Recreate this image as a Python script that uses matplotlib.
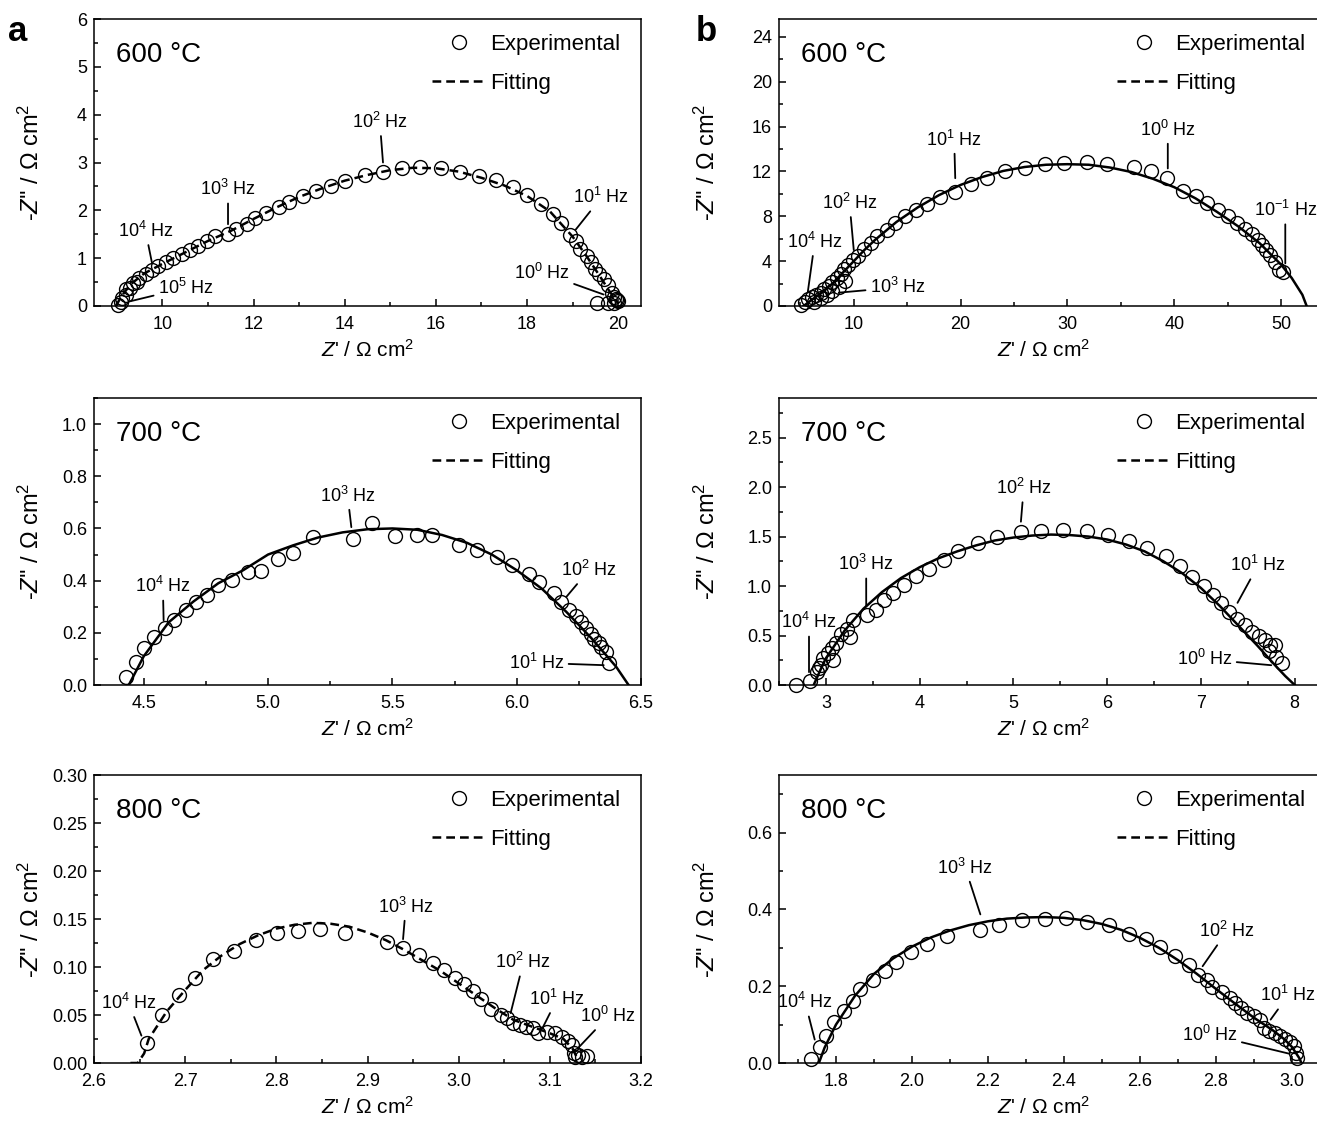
import matplotlib
matplotlib.use("Agg")
import matplotlib.pyplot as plt
from matplotlib.lines import Line2D
from matplotlib.ticker import MultipleLocator

plt.rcParams['font.family'] = ['Liberation Sans', 'DejaVu Sans']
plt.rcParams['mathtext.fontset'] = 'custom'
plt.rcParams['mathtext.rm'] = 'Liberation Sans'
plt.rcParams['mathtext.it'] = 'Liberation Sans:italic'
plt.rcParams['mathtext.bf'] = 'Liberation Sans:bold'

# ---------------- données ----------------
# (a) 600 °C
a600_zr = [9.03, 9.12, 9.21, 9.35, 9.49, 9.63, 9.77, 9.91, 10.09, 10.23, 10.42, 10.6, 10.79, 10.97,
           11.16, 11.44, 11.62, 11.85, 12.04, 12.27, 12.55, 12.78, 13.08, 13.36, 13.70, 14.0, 14.44,
           14.84, 15.25, 15.65, 16.11, 16.53, 16.94, 17.31, 17.69, 18.01, 18.31, 18.56, 18.75, 18.94,
           19.07, 19.17, 19.31, 19.40, 19.49, 19.58, 19.68, 19.77, 19.86, 19.91, 19.95, 19.98,
           19.54, 19.77, 19.91, 20.0, 9.1, 9.2, 9.3, 9.45]
a600_zi = [0.03, 0.17, 0.35, 0.49, 0.59, 0.66, 0.75, 0.84, 0.91, 1.01, 1.08, 1.17, 1.26, 1.35,
           1.47, 1.51, 1.62, 1.71, 1.84, 1.95, 2.08, 2.18, 2.30, 2.41, 2.51, 2.62, 2.74,
           2.81, 2.88, 2.90, 2.88, 2.81, 2.72, 2.63, 2.48, 2.32, 2.13, 1.93, 1.74, 1.48,
           1.36, 1.19, 1.05, 0.91, 0.77, 0.66, 0.56, 0.43, 0.28, 0.19, 0.14, 0.12,
           0.07, 0.07, 0.07, 0.10, 0.08, 0.22, 0.38, 0.50]
a600_fit_zr = [8.98, 9.1, 9.3, 9.6, 10.0, 10.5, 11.0, 11.5, 12.0, 12.5, 13.0, 13.5, 14.0, 14.5, 15.0,
               15.5, 16.0, 16.5, 17.0, 17.5, 18.0, 18.5, 19.0, 19.3, 19.6, 19.8, 19.95, 20.0]
a600_fit_zi = [0.0, 0.2, 0.45, 0.68, 0.88, 1.12, 1.36, 1.57, 1.82, 2.06, 2.28, 2.46, 2.62, 2.74, 2.84,
               2.89, 2.88, 2.81, 2.68, 2.52, 2.30, 1.98, 1.45, 1.05, 0.62, 0.32, 0.12, 0.05]
a600_freq = ['10$^{5}$ Hz', '10$^{4}$ Hz', '10$^{3}$ Hz', '10$^{2}$ Hz', '10$^{1}$ Hz', '10$^{0}$ Hz']
a600_text = [(10.51, 0.38), (9.63, 1.57), (11.44, 2.44), (14.77, 3.85), (19.63, 2.27), (18.33, 0.70)]
a600_tip = [(9.3, 0.1), (9.77, 0.91), (11.44, 1.71), (14.84, 3.0), (19.07, 1.6), (19.68, 0.24)]

# (a) 700 °C
a700_zr = [4.43, 4.47, 4.50, 4.54, 4.585, 4.62, 4.67, 4.71, 4.755, 4.80, 4.855, 4.92, 4.97, 5.04,
           5.10, 5.18, 5.34, 5.42, 5.51, 5.60, 5.66, 5.77, 5.84, 5.92, 5.98, 6.05, 6.09, 6.15, 6.18,
           6.21, 6.24, 6.26, 6.28, 6.30, 6.31, 6.33, 6.34, 6.36, 6.37]
a700_zi = [0.03, 0.09, 0.14, 0.185, 0.217, 0.248, 0.289, 0.318, 0.346, 0.382, 0.401, 0.433, 0.437,
           0.484, 0.506, 0.567, 0.560, 0.620, 0.571, 0.576, 0.573, 0.535, 0.516, 0.490, 0.461, 0.427,
           0.394, 0.353, 0.318, 0.289, 0.264, 0.242, 0.22, 0.197, 0.178, 0.162, 0.146, 0.127, 0.083]
a700_fit_zr = [4.44, 4.5, 4.6, 4.7, 4.8, 4.9, 5.0, 5.1, 5.2, 5.3, 5.4, 5.5, 5.6, 5.7, 5.8, 5.9, 6.0,
               6.1, 6.2, 6.3, 6.4, 6.45]
a700_fit_zi = [0.0, 0.11, 0.24, 0.32, 0.39, 0.44, 0.50, 0.535, 0.565, 0.585, 0.597, 0.60, 0.595,
               0.575, 0.545, 0.50, 0.44, 0.37, 0.28, 0.18, 0.07, 0.0]
a700_freq = ['10$^{4}$ Hz', '10$^{3}$ Hz', '10$^{2}$ Hz', '10$^{1}$ Hz']
a700_text = [(4.577, 0.378), (5.32, 0.726), (6.29, 0.44), (6.08, 0.085)]
a700_tip = [(4.58, 0.248), (5.335, 0.605), (6.20, 0.338), (6.35, 0.076)]

# (a) 800 °C
a800_zr = [2.658, 2.675, 2.693, 2.711, 2.731, 2.754, 2.778, 2.801, 2.824, 2.848, 2.875, 2.921, 2.939,
           2.957, 2.972, 2.984, 2.996, 3.006, 3.016, 3.025, 3.036, 3.046, 3.053, 3.060, 3.067, 3.074,
           3.081, 3.087, 3.097, 3.106, 3.113, 3.120, 3.124, 3.127, 3.131, 3.141, 3.135, 3.128]
a800_zi = [0.021, 0.050, 0.071, 0.089, 0.108, 0.117, 0.128, 0.135, 0.138, 0.140, 0.135, 0.126, 0.120,
           0.112, 0.104, 0.097, 0.089, 0.082, 0.075, 0.067, 0.056, 0.050, 0.047, 0.042, 0.040, 0.038,
           0.036, 0.031, 0.032, 0.031, 0.027, 0.023, 0.019, 0.010, 0.008, 0.007, 0.006, 0.006]
a800_fit_zr = [2.64, 2.648, 2.655, 2.66, 2.68, 2.70, 2.72, 2.74, 2.76, 2.78, 2.80, 2.82, 2.84, 2.86,
               2.88, 2.90, 2.92, 2.94, 2.96, 2.98, 3.00, 3.02, 3.04, 3.06, 3.08, 3.10, 3.115, 3.125, 3.13]
a800_fit_zi = [0.0, 0.0, 0.01, 0.025, 0.054, 0.076, 0.097, 0.112, 0.124, 0.133, 0.140, 0.144, 0.146,
               0.145, 0.142, 0.136, 0.128, 0.118, 0.107, 0.096, 0.083, 0.070, 0.057, 0.045, 0.038,
               0.031, 0.025, 0.015, 0.005]
a800_freq = ['10$^{4}$ Hz', '10$^{3}$ Hz', '10$^{2}$ Hz', '10$^{1}$ Hz', '10$^{0}$ Hz']
a800_text = [(2.638, 0.0626), (2.942, 0.163), (3.071, 0.105), (3.108, 0.0667), (3.164, 0.0487)]
a800_tip = [(2.652, 0.0285), (2.939, 0.129), (3.057, 0.052), (3.092, 0.0365), (3.131, 0.0156)]

# (b) 600 °C
b600_zr = [5.1, 5.4, 5.7, 6.1, 6.5, 6.9, 7.25, 7.65, 8.0, 8.4, 8.8, 9.1, 9.5, 9.9, 10.4, 11.0, 11.6,
           12.2, 13.1, 13.9, 14.8, 15.8, 16.9, 18.1, 19.5, 21.0, 22.5, 24.2, 26.0, 27.9, 29.7, 31.8,
           33.7, 36.2, 37.8, 39.3, 40.8, 42.0, 43.1, 44.1, 45.0, 45.9, 46.6, 47.3, 47.8, 48.2, 48.6,
           49.0, 49.4, 49.8, 50.2, 6.3, 6.9, 7.5, 8.0, 8.6, 9.2]
b600_zi = [0.1, 0.4, 0.6, 0.8, 1.0, 1.2, 1.5, 1.8, 2.1, 2.5, 2.85, 3.3, 3.65, 4.1, 4.5, 5.1, 5.6,
           6.2, 6.8, 7.4, 8.0, 8.55, 9.1, 9.7, 10.2, 10.85, 11.4, 12.0, 12.3, 12.7, 12.8, 12.85,
           12.7, 12.4, 12.0, 11.4, 10.3, 9.8, 9.15, 8.55, 8.0, 7.4, 6.9, 6.4, 5.9, 5.45, 5.0,
           4.55, 3.95, 3.2, 3.05, 0.4, 0.7, 1.0, 1.3, 1.7, 2.2]
b600_fit_zr = [5.3, 6.0, 7.0, 8.0, 9.0, 10.0, 11.0, 12.0, 14.0, 16.0, 18.0, 20.0, 22.0, 24.0, 26.0,
               28.0, 30.0, 32.0, 34.0, 36.0, 38.0, 40.0, 42.0, 44.0, 46.0, 48.0, 50.0, 51.0, 52.0, 52.4]
b600_fit_zi = [0.0, 0.5, 1.2, 2.0, 3.0, 4.0, 5.0, 5.9, 7.5, 8.8, 9.9, 10.8, 11.5, 12.05, 12.4,
               12.6, 12.65, 12.6, 12.35, 11.95, 11.35, 10.6, 9.6, 8.4, 7.1, 5.6, 3.7, 2.5, 1.0, 0.0]
b600_freq = ['10$^{4}$ Hz', '10$^{2}$ Hz', '10$^{3}$ Hz', '10$^{1}$ Hz', '10$^{0}$ Hz', '10$^{-1}$ Hz']
b600_text = [(6.35, 5.73), (9.6, 9.2), (14.1, 1.66), (19.4, 14.85), (39.4, 15.74), (50.4, 8.55)]
b600_tip = [(5.7, 1.28), (10.0, 4.99), (8.6, 1.19), (19.5, 11.4), (39.4, 12.27), (50.4, 3.8)]

# (b) 700 °C
b700_zr = [2.68, 2.83, 2.91, 2.95, 2.97, 3.02, 3.06, 3.11, 3.16, 3.22, 3.26, 3.29, 3.44, 3.53, 3.62,
           3.72, 3.83, 3.96, 4.10, 4.26, 4.41, 4.62, 4.83, 5.08, 5.29, 5.53, 5.78, 6.01, 6.23, 6.43,
           6.63, 6.78, 6.90, 7.03, 7.13, 7.21, 7.30, 7.39, 7.47, 7.55, 7.62, 7.68, 7.74, 7.79, 7.73,
           7.80, 7.86, 2.93, 3.08]
b700_zi = [0.0, 0.04, 0.13, 0.20, 0.27, 0.32, 0.37, 0.42, 0.52, 0.57, 0.49, 0.66, 0.71, 0.76, 0.86,
           0.93, 1.01, 1.10, 1.17, 1.26, 1.35, 1.43, 1.50, 1.55, 1.56, 1.57, 1.56, 1.52, 1.46, 1.38,
           1.30, 1.20, 1.09, 1.00, 0.91, 0.83, 0.74, 0.67, 0.61, 0.54, 0.50, 0.45, 0.40, 0.40, 0.34,
           0.28, 0.22, 0.17, 0.25]
b700_fit_zr = [2.87, 2.95, 3.0, 3.2, 3.4, 3.6, 3.8, 4.0, 4.2, 4.4, 4.6, 4.8, 5.0, 5.2, 5.4, 5.6,
               5.8, 6.0, 6.2, 6.4, 6.6, 6.8, 7.0, 7.2, 7.4, 7.6, 7.8, 7.9, 8.0]
b700_fit_zi = [0.0, 0.17, 0.27, 0.55, 0.77, 0.94, 1.08, 1.19, 1.28, 1.35, 1.41, 1.46, 1.49, 1.51,
               1.52, 1.515, 1.50, 1.47, 1.42, 1.35, 1.25, 1.13, 0.98, 0.80, 0.60, 0.40, 0.19, 0.09, 0.0]
b700_freq = ['10$^{4}$ Hz', '10$^{3}$ Hz', '10$^{2}$ Hz', '10$^{1}$ Hz', '10$^{0}$ Hz']
b700_text = [(2.82, 0.633), (3.43, 1.22), (5.11, 1.99), (7.61, 1.21), (7.04, 0.26)]
b700_tip = [(2.82, 0.13), (3.43, 0.80), (5.08, 1.65), (7.39, 0.83), (7.75, 0.20)]

# (b) 800 °C
b800_zr = [1.735, 1.758, 1.775, 1.794, 1.82, 1.845, 1.864, 1.897, 1.928, 1.958, 1.998, 2.04, 2.092,
           2.18, 2.23, 2.289, 2.35, 2.406, 2.461, 2.518, 2.57, 2.615, 2.654, 2.693, 2.729, 2.754,
           2.777, 2.791, 2.816, 2.836, 2.851, 2.866, 2.883, 2.899, 2.916, 2.927, 2.941, 2.955, 2.97,
           2.983, 2.994, 3.005, 3.01, 3.014]
b800_zi = [0.01, 0.042, 0.07, 0.106, 0.135, 0.161, 0.193, 0.217, 0.239, 0.263, 0.29, 0.311, 0.332,
           0.346, 0.359, 0.372, 0.374, 0.378, 0.368, 0.359, 0.337, 0.322, 0.303, 0.278, 0.254, 0.230,
           0.216, 0.198, 0.184, 0.17, 0.155, 0.143, 0.13, 0.122, 0.113, 0.091, 0.083, 0.078, 0.071,
           0.063, 0.054, 0.043, 0.026, 0.013]
b800_fit_zr = [1.755, 1.77, 1.8, 1.85, 1.9, 1.95, 2.0, 2.05, 2.1, 2.15, 2.2, 2.25, 2.3, 2.35, 2.4,
               2.45, 2.5, 2.55, 2.6, 2.65, 2.7, 2.75, 2.8, 2.85, 2.9, 2.95, 2.98, 3.0, 3.02, 3.025]
b800_fit_zi = [0.0, 0.04, 0.10, 0.175, 0.232, 0.272, 0.303, 0.327, 0.345, 0.359, 0.369, 0.376,
               0.379, 0.38, 0.378, 0.372, 0.362, 0.347, 0.326, 0.30, 0.268, 0.232, 0.193, 0.155,
               0.118, 0.085, 0.062, 0.042, 0.012, 0.0]
b800_freq = ['10$^{4}$ Hz', '10$^{3}$ Hz', '10$^{2}$ Hz', '10$^{1}$ Hz', '10$^{0}$ Hz']
b800_text = [(1.719, 0.158), (2.14, 0.509), (2.829, 0.343), (2.99, 0.176), (2.784, 0.074)]
b800_tip = [(1.744, 0.061), (2.18, 0.387), (2.765, 0.252), (2.944, 0.113), (2.994, 0.024)]

temperatures = ['600 °C', '700 °C', '800 °C']

# ---------------- mise en page ----------------
W, H = 1317, 1123
fig = plt.figure(figsize=(W / 100, H / 100), dpi=100)

col_left = [94, 779]
col_right = [641, 1320]
row_top = [19, 398, 775]
row_bot = [306, 685, 1063]

panels = [
    # colonne a
    dict(col=0, row=0, zr=a600_zr, zi=a600_zi, fr=a600_fit_zr, fi=a600_fit_zi, dashed=True,
         xlim=(8.5, 20.5), ylim=(0, 6), xt=(2, 1), yt=(1, 0.5), fmt='%g',
         freq=a600_freq, text=a600_text, tip=a600_tip),
    dict(col=0, row=1, zr=a700_zr, zi=a700_zi, fr=a700_fit_zr, fi=a700_fit_zi, dashed=False,
         xlim=(4.3, 6.5), ylim=(0, 1.1), xt=(0.5, 0.25), yt=(0.2, 0.1), fmt='%.1f',
         freq=a700_freq, text=a700_text, tip=a700_tip),
    dict(col=0, row=2, zr=a800_zr, zi=a800_zi, fr=a800_fit_zr, fi=a800_fit_zi, dashed=True,
         xlim=(2.6, 3.2), ylim=(0, 0.30), xt=(0.1, 0.05), yt=(0.05, 0.025), fmt='%.2f',
         freq=a800_freq, text=a800_text, tip=a800_tip),
    # colonne b
    dict(col=1, row=0, zr=b600_zr, zi=b600_zi, fr=b600_fit_zr, fi=b600_fit_zi, dashed=False,
         xlim=(3, 53.65), ylim=(0, 25.6), xt=(10, 5), yt=(4, 2), fmt='%g',
         freq=b600_freq, text=b600_text, tip=b600_tip),
    dict(col=1, row=1, zr=b700_zr, zi=b700_zi, fr=b700_fit_zr, fi=b700_fit_zi, dashed=False,
         xlim=(2.5, 8.27), ylim=(0, 2.9), xt=(1, 0.5), yt=(0.5, 0.25), fmt='%.1f',
         freq=b700_freq, text=b700_text, tip=b700_tip),
    dict(col=1, row=2, zr=b800_zr, zi=b800_zi, fr=b800_fit_zr, fi=b800_fit_zi, dashed=False,
         xlim=(1.65, 3.074), ylim=(0, 0.75), xt=(0.2, 0.1), yt=(0.2, 0.1), fmt='%.1f',
         freq=b800_freq, text=b800_text, tip=b800_tip),
]

DASH = (0, (3.5, 2))

for p in panels:
    l, r = col_left[p['col']], col_right[p['col']]
    t, b = row_top[p['row']], row_bot[p['row']]
    wpx, hpx = r - l, b - t
    ax = fig.add_axes([l / W, 1 - b / H, wpx / W, hpx / H])

    ax.plot(p['zr'], p['zi'], 'o', mfc='none', mec='k', ms=10, mew=1.0, zorder=2, clip_on=False)
    ax.plot(p['fr'], p['fi'], color='k', lw=1.8, ls=DASH if p['dashed'] else '-', zorder=3)

    ax.set_xlim(*p['xlim'])
    ax.set_ylim(*p['ylim'])
    ax.xaxis.set_major_locator(MultipleLocator(p['xt'][0]))
    ax.xaxis.set_minor_locator(MultipleLocator(p['xt'][1]))
    ax.yaxis.set_major_locator(MultipleLocator(p['yt'][0]))
    ax.yaxis.set_minor_locator(MultipleLocator(p['yt'][1]))
    ax.yaxis.set_major_formatter(plt.FormatStrFormatter(p['fmt']))
    if p['col'] == 0 and p['row'] > 0:
        ax.xaxis.set_major_formatter(plt.FormatStrFormatter('%.1f'))

    ax.tick_params(which='both', direction='in', top=False, right=False, width=1.1,
                   labelsize=13)
    ax.tick_params(which='major', length=5)
    ax.tick_params(which='minor', length=3)
    ax.tick_params(axis='x', pad=7)
    ax.tick_params(axis='y', pad=5)
    for s in ax.spines.values():
        s.set_linewidth(1.1)

    ax.set_xlabel("$Z$' / Ω cm$^{2}$", fontsize=15)
    ax.set_ylabel("-$Z$'' / Ω cm$^{2}$", fontsize=17)
    if p['col'] == 0:
        ax.xaxis.set_label_coords(0.5, -33 / hpx)
        ax.yaxis.set_label_coords(-50 / wpx, 0.5)
    else:
        ax.xaxis.set_label_coords(265 / wpx, -33 / hpx)
        ax.yaxis.set_label_coords(-59 / wpx, 0.5)
    ax.xaxis.label.set_va('top')

    ax.text(22 / wpx, 1 - 36 / hpx, temperatures[p['row']], transform=ax.transAxes,
            fontsize=20, va='center', ha='left')

    handles = [Line2D([], [], ls='none', marker='o', mfc='none', mec='k', ms=10, mew=1.0),
               Line2D([], [], color='k', lw=1.8, ls=DASH)]
    ax.legend(handles, ['Experimental', 'Fitting'], loc='upper left',
              bbox_to_anchor=(338 / wpx, 1 - 15 / hpx), frameon=False, fontsize=16,
              handlelength=2.45, handletextpad=0.15, labelspacing=0.8,
              borderpad=0, borderaxespad=0)

    for lab, txt, tip in zip(p['freq'], p['text'], p['tip']):
        ax.annotate(lab, xy=tip, xytext=txt, ha='center', va='center', fontsize=13,
                    annotation_clip=False,
                    arrowprops=dict(arrowstyle='-', color='k', lw=1.3, shrinkA=1, shrinkB=0))

fig.text(8 / W, 1 - 41 / H, 'a', fontsize=25, fontweight='bold', va='baseline')
fig.text(696 / W, 1 - 41 / H, 'b', fontsize=25, fontweight='bold', va='baseline')

fig.savefig('out.png', dpi=100)
